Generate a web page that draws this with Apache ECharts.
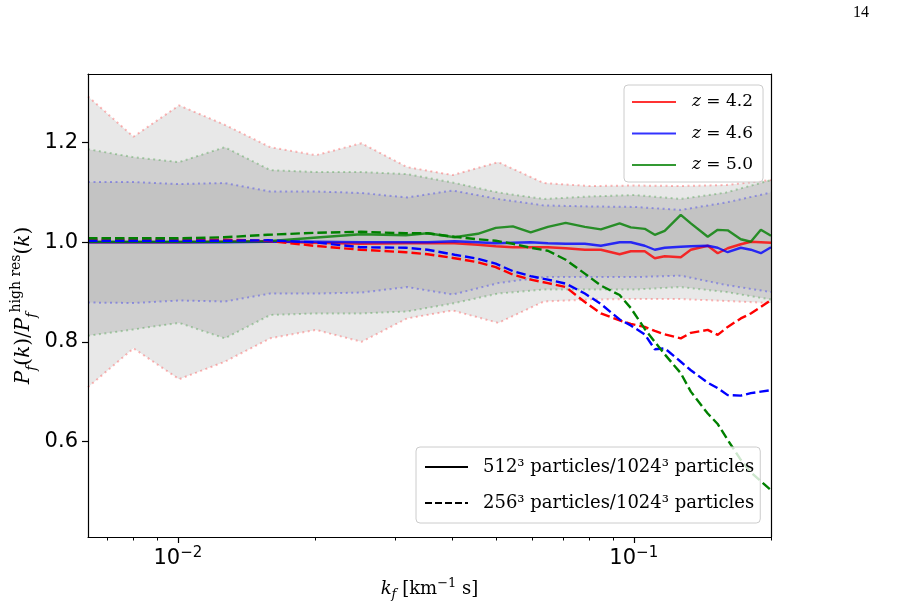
<!DOCTYPE html>
<html><head><meta charset="utf-8">
<script src="https://cdn.jsdelivr.net/npm/echarts@6/dist/echarts.min.js"></script>
<style>html,body{margin:0;padding:0;background:#fff}#c{width:901px;height:606px}</style>
</head><body><div id="c"></div><script>
// ---- data ----
const bandK = [0.00635, 0.00799, 0.01006, 0.01267, 0.01595, 0.02008, 0.02528, 0.03182, 0.04006, 0.05044, 0.0635, 0.07994, 0.1006, 0.1267, 0.1595, 0.2];
const redUpper   = [1.293, 1.212, 1.275, 1.236, 1.191, 1.175, 1.199, 1.151, 1.135, 1.161, 1.119, 1.113, 1.114, 1.113, 1.115, 1.125];
const redLower   = [0.709, 0.787, 0.725, 0.760, 0.807, 0.824, 0.800, 0.847, 0.863, 0.838, 0.881, 0.885, 0.886, 0.886, 0.882, 0.878];
const greenUpper = [1.187, 1.171, 1.161, 1.191, 1.145, 1.141, 1.141, 1.137, 1.120, 1.100, 1.087, 1.092, 1.095, 1.087, 1.100, 1.125];
const greenLower = [0.812, 0.825, 0.838, 0.807, 0.854, 0.857, 0.857, 0.861, 0.877, 0.897, 0.905, 0.905, 0.905, 0.910, 0.900, 0.885];
const blueUpper  = [1.121, 1.121, 1.117, 1.119, 1.102, 1.102, 1.099, 1.090, 1.104, 1.087, 1.074, 1.072, 1.071, 1.065, 1.080, 1.100];
const blueLower  = [0.879, 0.878, 0.883, 0.881, 0.897, 0.897, 0.899, 0.910, 0.895, 0.918, 0.930, 0.930, 0.930, 0.933, 0.914, 0.900];

const lineK = [0.00635, 0.00795, 0.01001, 0.01262, 0.01574, 0.01986, 0.02518, 0.03162, 0.0353, 0.04045, 0.0455, 0.0498, 0.0543, 0.0594, 0.0648, 0.0709, 0.0781, 0.0847, 0.0931, 0.0985, 0.1057, 0.1112, 0.1169, 0.1268, 0.1334, 0.1453, 0.1528, 0.1607, 0.1717, 0.1806, 0.190, 0.2];
const solidRed   = [1.000, 1.000, 1.000, 1.001, 1.002, 0.999, 0.997, 0.998, 0.998, 0.998, 0.995, 0.992, 0.990, 0.990, 0.990, 0.988, 0.985, 0.985, 0.976, 0.982, 0.982, 0.968, 0.972, 0.970, 0.985, 0.993, 0.978, 0.988, 0.996, 1.001, 1.000, 0.999];
const solidBlue  = [1.000, 1.000, 1.000, 1.000, 1.001, 1.001, 1.000, 1.000, 1.000, 1.002, 1.000, 0.998, 0.999, 1.000, 0.998, 0.997, 0.997, 0.993, 1.000, 1.000, 0.993, 0.985, 0.989, 0.991, 0.992, 0.993, 0.989, 0.980, 0.989, 0.985, 0.978, 0.990];
const solidGreen = [1.001, 1.001, 1.001, 1.001, 1.002, 1.009, 1.016, 1.014, 1.018, 1.010, 1.017, 1.029, 1.032, 1.020, 1.031, 1.039, 1.031, 1.026, 1.038, 1.030, 1.027, 1.015, 1.023, 1.055, 1.038, 1.011, 1.025, 1.024, 1.006, 1.001, 1.025, 1.013];
const dashedRed   = [1.005, 1.005, 1.005, 1.005, 1.003, 0.993, 0.985, 0.980, 0.976, 0.968, 0.960, 0.950, 0.935, 0.925, 0.918, 0.910, 0.880, 0.857, 0.843, 0.836, 0.830, 0.822, 0.815, 0.807, 0.818, 0.824, 0.814, 0.830, 0.847, 0.857, 0.870, 0.884];
const dashedBlue  = [1.003, 1.003, 1.003, 1.003, 1.004, 1.000, 0.990, 0.989, 0.985, 0.975, 0.967, 0.957, 0.942, 0.932, 0.925, 0.917, 0.897, 0.876, 0.845, 0.833, 0.815, 0.785, 0.787, 0.760, 0.743, 0.718, 0.707, 0.693, 0.692, 0.697, 0.700, 0.703];
const dashedGreen = [1.008, 1.008, 1.008, 1.010, 1.015, 1.019, 1.021, 1.018, 1.018, 1.011, 1.006, 1.003, 0.997, 0.989, 0.983, 0.965, 0.937, 0.913, 0.894, 0.868, 0.826, 0.800, 0.775, 0.737, 0.700, 0.656, 0.635, 0.603, 0.563, 0.538, 0.520, 0.502];

const zLabels = ['z = 4.2', 'z = 4.6', 'z = 5.0'];
const resLabels = ['512\u00b3 particles/1024\u00b3 particles', '256\u00b3 particles/1024\u00b3 particles'];
const yTicks = [0.6, 0.8, 1.0, 1.2];
const xMajor = [0.01, 0.1];
const xMinor = [0.007, 0.008, 0.009, 0.02, 0.03, 0.04, 0.05, 0.06, 0.07, 0.08, 0.09, 0.2];
const xMin = 0.00635, xMax = 0.2, yMin = 0.408, yMax = 1.338;

// ---- build ----
const pairs = (ks, vs) => ks.map((k, i) => [k, vs[i]]);
const SERIF = 'DejaVu Serif';

// nested bands: each bound filled down to the axis bottom, painted outer-to-inner
function fillDown(vals, color) {
  return {type: 'line', data: pairs(bandK, vals), symbol: 'none', silent: true,
          lineStyle: {opacity: 0}, areaStyle: {color: color, opacity: 1, origin: 'start'}};
}
function edge(vals, color) {
  return {type: 'line', data: pairs(bandK, vals), symbol: 'none', silent: true,
          lineStyle: {color: color, width: 2, type: [2, 3.5]}};
}
function line(name, vals, color, dashed) {
  return {type: 'line', name: name, data: pairs(lineK, vals), symbol: 'none', silent: true,
          lineStyle: {color: color, width: 2.4, type: dashed ? [9.5, 4] : 'solid'}, itemStyle: {color: color}};
}

const series = [
  fillDown(redUpper, '#e8e8e8'),
  fillDown(greenUpper, '#d0d0d0'),
  fillDown(blueUpper, '#c3c3c3'),
  fillDown(blueLower, '#d0d0d0'),
  fillDown(greenLower, '#e8e8e8'),
  fillDown(redLower, '#ffffff'),
  edge(redUpper, 'rgba(255,0,0,0.28)'), edge(redLower, 'rgba(255,0,0,0.28)'),
  edge(greenUpper, 'rgba(0,128,0,0.28)'), edge(greenLower, 'rgba(0,128,0,0.28)'),
  edge(blueUpper, 'rgba(0,0,255,0.3)'), edge(blueLower, 'rgba(0,0,255,0.3)'),
  line(zLabels[0], solidRed, 'rgba(255,0,0,0.8)', false),
  line(zLabels[1], solidBlue, 'rgba(0,0,255,0.8)', false),
  line(zLabels[2], solidGreen, 'rgba(0,128,0,0.8)', false),
  line('d0', dashedRed, '#ff0000', true),
  line('d1', dashedBlue, '#0000ff', true),
  line('d2', dashedGreen, '#008000', true),
  {type: 'line', name: resLabels[0], data: [], symbol: 'none', lineStyle: {color: '#000', width: 2.4, type: 'solid'}, itemStyle: {color: '#000'}},
  {type: 'line', name: resLabels[1], data: [], symbol: 'none', lineStyle: {color: '#000', width: 2.4, type: [7, 3]}, itemStyle: {color: '#000'}}
];

const chart = echarts.init(document.getElementById('c'), null, {renderer: 'canvas'});
chart.setOption({
  animation: false,
  backgroundColor: '#fff',
  grid: {left: 88, right: 130, top: 74, bottom: 69, containLabel: false, outerBoundsMode: 'none'},
  xAxis: [
    {type: 'log', min: xMin, max: xMax, position: 'bottom', z: 10,
     axisLine: {show: true, onZero: false, lineStyle: {color: '#000', width: 1.2}},
     axisTick: {show: true, length: 6, customValues: xMajor, lineStyle: {color: '#000', width: 1.2}},
     axisLabel: {customValues: xMajor, margin: 9, color: '#000',
       formatter: v => '{b|10}{s|\u2212' + Math.round(-Math.log10(v)) + '}',
       rich: {b: {fontFamily: 'DejaVu Sans', fontSize: 21, lineHeight: 26, color: '#000'},
              s: {fontFamily: 'DejaVu Sans', fontSize: 15, lineHeight: 15, verticalAlign: 'top', color: '#000'}}},
     splitLine: {show: false},
     name: '{i|k}{sub|f}{n| [km}{sup|\u22121}{n| s]}', nameLocation: 'middle', nameGap: 40,
     nameTextStyle: {rich: {
       i: {fontFamily: SERIF, fontStyle: 'italic', fontSize: 18, lineHeight: 24, color: '#000'},
       sub: {fontFamily: SERIF, fontStyle: 'italic', fontSize: 13, lineHeight: 13, verticalAlign: 'bottom', color: '#000'},
       n: {fontFamily: SERIF, fontSize: 18, lineHeight: 24, color: '#000'},
       sup: {fontFamily: SERIF, fontSize: 13, lineHeight: 13, verticalAlign: 'top', color: '#000'}}}},
    {type: 'log', min: xMin, max: xMax, position: 'bottom', z: 10,
     axisLine: {show: false}, axisLabel: {show: false}, splitLine: {show: false},
     axisTick: {show: true, length: 3.5, customValues: xMinor, lineStyle: {color: '#000', width: 1}}},
    {type: 'log', min: xMin, max: xMax, position: 'top', z: 10,
     axisLine: {show: true, onZero: false, lineStyle: {color: '#000', width: 1.2}},
     axisTick: {show: false}, axisLabel: {show: false}, splitLine: {show: false}}
  ],
  yAxis: [
    {type: 'value', min: yMin, max: yMax, position: 'left', z: 10,
     axisLine: {show: true, onZero: false, lineStyle: {color: '#000', width: 1.2}},
     axisTick: {show: true, length: 6, customValues: yTicks, lineStyle: {color: '#000', width: 1.2}},
     axisLabel: {customValues: yTicks, formatter: v => v.toFixed(1), fontFamily: 'DejaVu Sans', fontSize: 21, color: '#000', margin: 10},
     splitLine: {show: false},
     name: '{i|P}{sub|f}{n|(}{i|k}{n|)/}{i|P}{sub|f}{sup|high res}{n|(}{i|k}{n|)}',
     nameLocation: 'middle', nameRotate: 90, nameGap: 49, nameMoveOverlap: false,
     nameTextStyle: {rich: {
       i: {fontFamily: SERIF, fontStyle: 'italic', fontSize: 20, lineHeight: 30, color: '#000'},
       sub: {fontFamily: SERIF, fontStyle: 'italic', fontSize: 14, lineHeight: 14, verticalAlign: 'bottom', color: '#000'},
       n: {fontFamily: SERIF, fontSize: 20, lineHeight: 30, color: '#000'},
       sup: {fontFamily: SERIF, fontSize: 14, lineHeight: 14, verticalAlign: 'top', color: '#000'}}}},
    {type: 'value', min: yMin, max: yMax, position: 'right', z: 10,
     axisLine: {show: true, onZero: false, lineStyle: {color: '#000', width: 1.2}},
     axisTick: {show: false}, axisLabel: {show: false}, splitLine: {show: false}}
  ],
  legend: [
    {data: zLabels, orient: 'vertical', left: 624, top: 85, selectedMode: false,
     itemWidth: 44, itemHeight: 20, itemGap: 11.5, padding: [7, 10, 7, 7],
     itemStyle: {opacity: 0},
     backgroundColor: 'rgba(255,255,255,0.8)', borderColor: '#cccccc', borderWidth: 1, borderRadius: 4,
     formatter: n => '{i|z}{n| = ' + n.split('= ')[1] + '}',
     textStyle: {fontFamily: SERIF, fontSize: 17, lineHeight: 20, color: '#000', padding: [0, 0, 0, 11],
       rich: {i: {fontFamily: SERIF, fontStyle: 'italic', fontSize: 17, lineHeight: 20, color: '#000'},
              n: {fontFamily: SERIF, fontSize: 17, lineHeight: 20, color: '#000'}}}},
    {data: resLabels, orient: 'vertical', left: 416, top: 447, selectedMode: false,
     itemWidth: 43, itemHeight: 20, itemGap: 16, padding: [10, 6, 10, 8],
     itemStyle: {opacity: 0},
     backgroundColor: 'rgba(255,255,255,0.8)', borderColor: '#cccccc', borderWidth: 1, borderRadius: 4,
     textStyle: {fontFamily: SERIF, fontSize: 18, lineHeight: 20, color: '#000', padding: [0, 0, 0, 10]}}
  ],
  graphic: [{type: 'text', left: 853, top: 5, style: {text: '14', font: '16px "Liberation Serif"', fill: '#000'}}],
  series: series
});
</script></body></html>
